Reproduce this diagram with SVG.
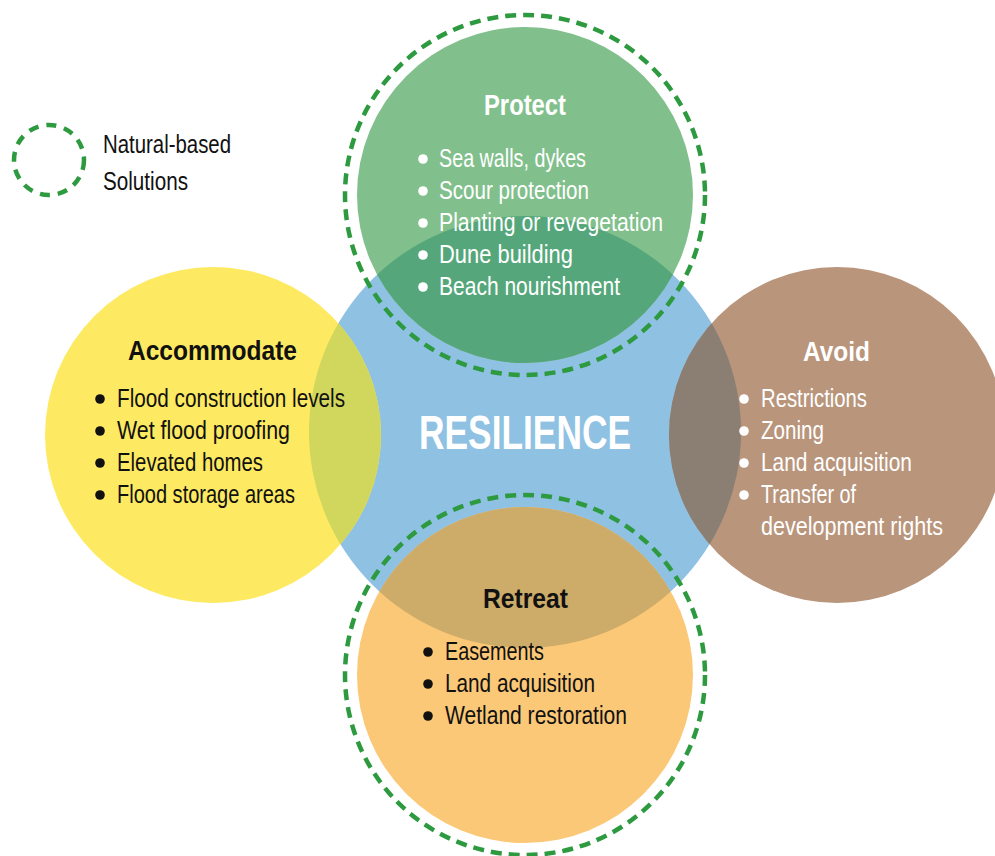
<svg xmlns="http://www.w3.org/2000/svg" width="995" height="856" viewBox="0 0 995 856">
<style>
.t{font-family:"Liberation Sans",Arial,sans-serif;font-weight:bold;font-size:28px}
.b{font-family:"Liberation Sans",Arial,sans-serif;font-size:25px}
.w{fill:#ffffff}
.k{fill:#111111}
.dash{fill:none;stroke:#2e9a40;stroke-width:4.5;stroke-dasharray:11 7}
</style>
<defs>
<clipPath id="blueClip"><circle cx="525" cy="432" r="216"/></clipPath>
</defs>
<rect width="995" height="856" fill="#ffffff"/>
<g id="resilience">
<circle cx="525" cy="432" r="216" fill="#8fc1e3"/>
</g>
<g id="protect-shape">
<circle cx="525" cy="195" r="168" fill="#81c08c"/>
<circle cx="525" cy="195" r="168" fill="#55a77b" clip-path="url(#blueClip)"/>
</g>
<g id="accommodate-shape">
<circle cx="213" cy="435" r="168" fill="#fdea62"/>
<circle cx="213" cy="435" r="168" fill="#d1d75d" clip-path="url(#blueClip)"/>
</g>
<g id="avoid-shape">
<circle cx="837" cy="435" r="168" fill="#b9957c"/>
<circle cx="837" cy="435" r="168" fill="#8b7e73" clip-path="url(#blueClip)"/>
</g>
<g id="retreat-shape">
<circle cx="525" cy="675" r="168" fill="#fbc878"/>
<circle cx="525" cy="675" r="168" fill="#cdab68" clip-path="url(#blueClip)"/>
</g>
<g id="nbs-rings">
<circle class="dash" cx="525" cy="195" r="180"/>
<circle class="dash" cx="525" cy="675" r="180"/>
</g>
<g id="resilience-label">
<text class="t w" x="419" y="449" style="font-size:49px" textLength="212" lengthAdjust="spacingAndGlyphs">RESILIENCE</text>
</g>
<g id="protect">
<text class="t w" x="484" y="115" style="font-size:30px" textLength="82" lengthAdjust="spacingAndGlyphs">Protect</text>
<g class="w">
<circle cx="423" cy="159" r="4.8"/><circle cx="423" cy="191" r="4.8"/><circle cx="423" cy="223" r="4.8"/><circle cx="423" cy="255" r="4.8"/><circle cx="423" cy="287" r="4.8"/>
</g>
<text class="b w" x="439" y="167" textLength="147" lengthAdjust="spacingAndGlyphs">Sea walls, dykes</text>
<text class="b w" x="439" y="199" textLength="150" lengthAdjust="spacingAndGlyphs">Scour protection</text>
<text class="b w" x="439" y="231" textLength="224" lengthAdjust="spacingAndGlyphs">Planting or revegetation</text>
<text class="b w" x="439" y="263" textLength="134" lengthAdjust="spacingAndGlyphs">Dune building</text>
<text class="b w" x="439" y="295" textLength="181" lengthAdjust="spacingAndGlyphs">Beach nourishment</text>
</g>
<g id="accommodate">
<text class="t k" x="128" y="360" textLength="169" lengthAdjust="spacingAndGlyphs">Accommodate</text>
<g class="k">
<circle cx="100" cy="399" r="4.8"/><circle cx="100" cy="431" r="4.8"/><circle cx="100" cy="463" r="4.8"/><circle cx="100" cy="495" r="4.8"/>
</g>
<text class="b k" x="117" y="407" textLength="228" lengthAdjust="spacingAndGlyphs">Flood construction levels</text>
<text class="b k" x="117" y="439" textLength="173" lengthAdjust="spacingAndGlyphs">Wet flood proofing</text>
<text class="b k" x="117" y="471" textLength="146" lengthAdjust="spacingAndGlyphs">Elevated homes</text>
<text class="b k" x="117" y="503" textLength="178" lengthAdjust="spacingAndGlyphs">Flood storage areas</text>
</g>
<g id="avoid">
<text class="t w" x="803" y="361" textLength="67" lengthAdjust="spacingAndGlyphs">Avoid</text>
<g class="w">
<circle cx="744" cy="399" r="4.8"/><circle cx="744" cy="431" r="4.8"/><circle cx="744" cy="463" r="4.8"/><circle cx="744" cy="495" r="4.8"/>
</g>
<text class="b w" x="761" y="407" textLength="106" lengthAdjust="spacingAndGlyphs">Restrictions</text>
<text class="b w" x="761" y="439" textLength="63" lengthAdjust="spacingAndGlyphs">Zoning</text>
<text class="b w" x="761" y="471" textLength="151" lengthAdjust="spacingAndGlyphs">Land acquisition</text>
<text class="b w" x="761" y="503" textLength="95" lengthAdjust="spacingAndGlyphs">Transfer of</text>
<text class="b w" x="761" y="535" textLength="182" lengthAdjust="spacingAndGlyphs">development rights</text>
</g>
<g id="retreat">
<text class="t k" x="483" y="608" textLength="85" lengthAdjust="spacingAndGlyphs">Retreat</text>
<g class="k">
<circle cx="428" cy="652" r="4.8"/><circle cx="428" cy="684" r="4.8"/><circle cx="428" cy="716" r="4.8"/>
</g>
<text class="b k" x="445" y="660" textLength="99" lengthAdjust="spacingAndGlyphs">Easements</text>
<text class="b k" x="445" y="692" textLength="150" lengthAdjust="spacingAndGlyphs">Land acquisition</text>
<text class="b k" x="445" y="724" textLength="182" lengthAdjust="spacingAndGlyphs">Wetland restoration</text>
</g>
<g id="legend">
<circle cx="49" cy="160" r="35" fill="none" stroke="#2e9a40" stroke-width="4.5" stroke-dasharray="10 8"/>
<text class="b k" x="103" y="153" textLength="128" lengthAdjust="spacingAndGlyphs">Natural-based</text>
<text class="b k" x="103" y="190" textLength="85" lengthAdjust="spacingAndGlyphs">Solutions</text>
</g>
</svg>
